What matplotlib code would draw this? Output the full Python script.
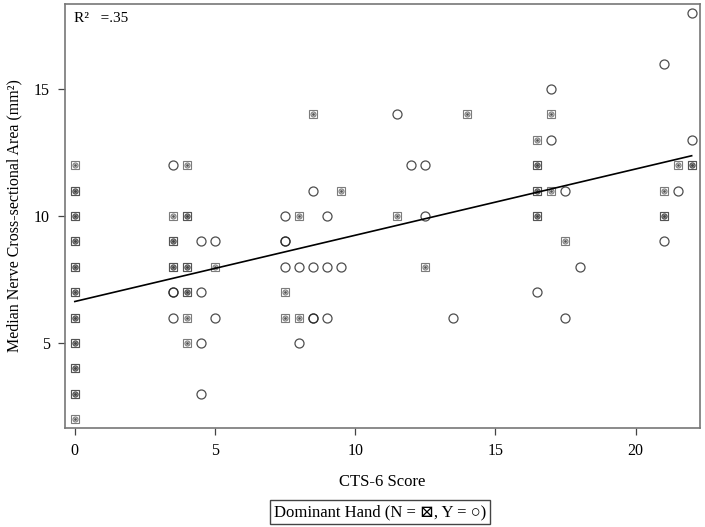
import numpy as np
from matplotlib import pyplot as plt

plt.rcParams['font.family'] = ['Liberation Serif', 'DejaVu Serif', 'DejaVu Sans']

# CTS-6 score / CSA for non-dominant hand (N); repeated points = overlapping observations
n_x = [0, 0, 0, 0, 0, 0, 0, 0, 0, 0, 0, 0, 0, 0, 0, 0, 0, 0, 0, 0,
       3.5, 3.5, 3.5, 3.5, 3.5,
       4, 4, 4, 4, 4, 4, 4, 4, 4,
       5, 7.5, 7.5, 8, 8, 8.5, 9.5, 11.5, 12.5, 14,
       16.5, 16.5, 16.5, 16.5, 16.5, 16.5, 16.5,
       17, 17, 17.5, 21, 21, 21, 21.5, 22, 22]
n_y = [12, 11, 10, 10, 9, 9, 8, 8, 7, 7, 6, 6, 5, 5, 4, 4, 3, 2, 3, 11,
       10, 9, 9, 8, 8,
       12, 10, 10, 8, 8, 7, 7, 6, 5,
       8, 7, 6, 10, 6, 14, 11, 10, 8, 14,
       13, 12, 12, 11, 11, 10, 10,
       14, 11, 9, 11, 10, 10, 12, 12, 12]

# dominant hand (Y)
y_x = [3.5, 3.5, 3.5, 3.5, 4.5, 4.5, 4.5, 4.5, 5, 5,
       7.5, 7.5, 7.5, 7.5, 8, 8, 8.5, 8.5, 8.5, 8.5, 9, 9, 9, 9.5,
       11.5, 12, 12.5, 12.5, 13.5, 16.5, 17, 17, 17.5, 17.5, 18,
       21, 21, 21.5, 22, 22]
y_y = [12, 7, 7, 6, 9, 7, 5, 3, 9, 6,
       10, 9, 9, 8, 8, 5, 11, 8, 6, 6, 10, 8, 6, 8,
       14, 12, 12, 10, 6, 7, 15, 13, 11, 6, 8,
       16, 9, 11, 18, 13]

# fitted line
intercept = 6.63
slope = 0.261
r2_text = "R\u00b2   =.35"

fig = plt.figure(figsize=(7.05, 5.27), dpi=100)
ax = fig.add_axes([0.0922, 0.188, 0.9008, 0.8044])

# N marker: gray box with circle + dot
ax.plot(n_x, n_y, ls='none', marker='s', ms=6, mfc='none', mec='#444444', mew=0.8, alpha=0.7)
ax.plot(n_x, n_y, ls='none', marker='o', ms=3.6, mfc='none', mec='#444444', mew=0.8, alpha=0.7)
ax.plot(n_x, n_y, ls='none', marker='.', ms=2.5, mfc='#444444', mec='#444444', alpha=0.7)

# Y marker: open circle
ax.plot(y_x, y_y, ls='none', marker='o', ms=6.5, mfc='none', mec='#222222', mew=0.9, alpha=0.8)

xl = np.array([0, 22])
ax.plot(xl, intercept + slope * xl, color='black', lw=1.2)

ax.set_xlim(-0.35, 22.3)
ax.set_ylim(1.65, 18.35)
ax.set_xticks([0, 5, 10, 15, 20])
ax.set_yticks([5, 10, 15])
ax.tick_params(direction='out', length=5, width=0.9, color='#444444', labelsize=11.5, pad=6,
               top=False, right=False)
for s in ax.spines.values():
    s.set_color('#777777')
    s.set_linewidth(1.2)

ax.text(0.014, 0.965, r2_text, transform=ax.transAxes, fontsize=11, va='center', ha='left')

ax.set_xlabel("CTS-6 Score", fontsize=12, labelpad=11)
ax.set_ylabel("Median Nerve Cross-sectional Area (mm\u00b2)", fontsize=11.5, labelpad=8)

fig.text(0.539, 0.028, "Dominant Hand (N = \u22a0, Y = \u25cb)", fontsize=12, ha='center', va='center',
         bbox=dict(boxstyle='square,pad=0.25', fc='white', ec='#444444', lw=1.0))

plt.savefig('out.png', dpi=100)
